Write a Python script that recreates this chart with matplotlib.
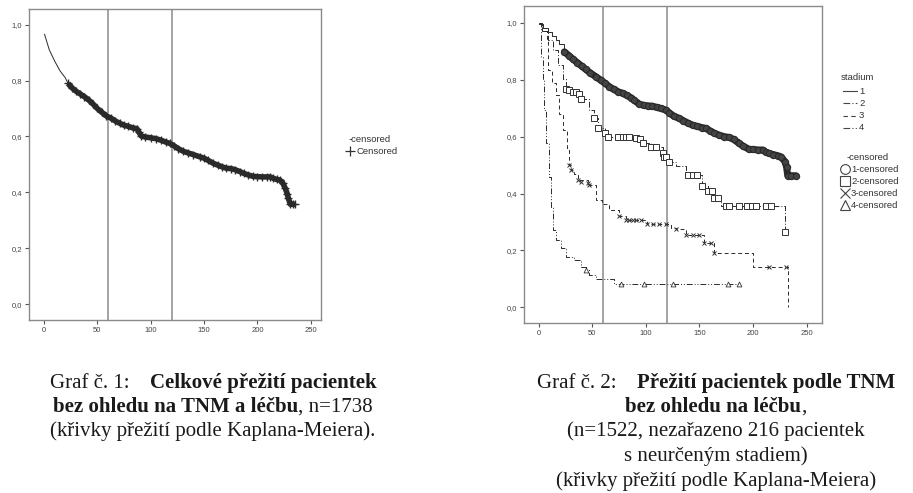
# plot.py - Kaplan-Meier curves (overall + by TNM stage)
import matplotlib
matplotlib.use('Agg')
import matplotlib.pyplot as plt
from matplotlib.lines import Line2D

# ------------------------------
# 1. Data
# ------------------------------
# Graf 1 - overall survival
km_t = [0.6, 5, 10, 15, 20, 22.5, 26, 30, 34, 38, 42, 46, 50, 54, 58.5, 63, 67, 71, 75, 79,
        83.5, 87, 89, 91.4, 95, 100, 105, 110, 114, 118, 122, 126, 130.5, 135, 140, 146, 150,
        154, 158.6, 163, 167, 171, 175, 179, 183.7, 187, 191.5, 196, 200, 204, 208.7, 212,
        215, 218, 221, 223.7, 226, 228, 229, 231, 233, 235.3]
km_s = [0.965, 0.91, 0.87, 0.835, 0.81, 0.79, 0.775, 0.762, 0.752, 0.742, 0.73, 0.716, 0.70,
        0.687, 0.673, 0.665, 0.655, 0.647, 0.640, 0.636, 0.630, 0.628, 0.615, 0.601, 0.598,
        0.595, 0.592, 0.586, 0.580, 0.575, 0.566, 0.556, 0.547, 0.541, 0.535, 0.527, 0.522,
        0.514, 0.504, 0.497, 0.491, 0.486, 0.485, 0.481, 0.474, 0.468, 0.462, 0.457, 0.456,
        0.455, 0.455, 0.455, 0.450, 0.446, 0.444, 0.434, 0.415, 0.395, 0.378, 0.357, 0.357, 0.357]
km_cens_from = 22.5

# Graf 2 - by stage
st1_t = [0, 4, 8.4, 12, 16, 19.3, 24, 28, 32, 36, 40, 44, 48, 53.5, 58, 62, 66, 70, 74, 78.4,
         82, 86, 89, 93.9, 98, 102, 106, 110, 114, 118.8, 122, 126, 131, 135, 139, 143.7, 148,
         152, 156, 160, 164, 168.5, 173, 177.9, 182, 187, 191, 196.5, 200, 205, 209, 212, 215,
         219, 223, 226, 229.8, 231.3, 232.3, 235, 240]
st1_s = [0.994, 0.98, 0.968, 0.955, 0.94, 0.927, 0.898, 0.885, 0.872, 0.86, 0.848, 0.836, 0.824,
         0.81, 0.798, 0.787, 0.775, 0.766, 0.758, 0.752, 0.745, 0.737, 0.728, 0.714, 0.710,
         0.708, 0.707, 0.703, 0.699, 0.693, 0.683, 0.672, 0.664, 0.656, 0.648, 0.64, 0.636,
         0.632, 0.629, 0.62, 0.612, 0.605, 0.60, 0.597, 0.59, 0.576, 0.566, 0.555, 0.555, 0.553,
         0.553, 0.545, 0.541, 0.537, 0.533, 0.529, 0.512, 0.492, 0.4625, 0.4625, 0.4625]
st1_cens_from = 24

st2_t = [0, 3, 8.4, 13, 17.7, 22.4, 25, 31.7, 38, 39.5, 47, 52, 55.7, 62.2, 64.4, 90.8, 94.5,
         97.6, 104.8, 115.7, 117.2, 119, 122, 128, 137.4, 152.4, 157.6, 163.2, 170, 229.8]
st2_s = [1.0, 0.97, 0.939, 0.904, 0.851, 0.804, 0.766, 0.758, 0.748, 0.731, 0.693, 0.667, 0.631,
         0.611, 0.6, 0.594, 0.59, 0.578, 0.564, 0.541, 0.529, 0.521, 0.512, 0.498, 0.465, 0.427,
         0.41, 0.386, 0.357, 0.266]
st2_ct = [25, 28, 31.7, 34.8, 38, 39.5, 52, 55.7, 62.2, 64.4, 73.7, 78.4, 81.5, 84.6, 90.8, 94.5,
          97.6, 104.8, 109.5, 115.7, 117.2, 118.8, 121.9, 139, 143.7, 147.4, 152.4, 157.6, 161.7,
          163.2, 167.6, 174.8, 177.3, 186.6, 194.3, 199, 202.7, 212, 216.7, 229.8]
st2_cs = [0.766, 0.763, 0.758, 0.758, 0.748, 0.731, 0.667, 0.631, 0.611, 0.6, 0.6, 0.6, 0.6, 0.6,
          0.594, 0.59, 0.578, 0.564, 0.564, 0.541, 0.529, 0.527, 0.512, 0.465, 0.465, 0.465,
          0.427, 0.41, 0.41, 0.386, 0.386, 0.357, 0.357, 0.357, 0.357, 0.357, 0.357, 0.357,
          0.357, 0.266]

st3_t = [0, 3, 7.7, 8.7, 12, 16.1, 19, 22.7, 26, 28, 30.2, 33, 36.4, 45.7, 47.3, 53.5, 59, 66,
         74.6, 81.5, 100.7, 123.4, 128, 137.4, 154.5, 163.9, 199.7, 232.3]
st3_s = [1.0, 0.97, 0.94, 0.835, 0.79, 0.747, 0.68, 0.623, 0.56, 0.502, 0.482, 0.47, 0.447, 0.436,
         0.43, 0.377, 0.363, 0.342, 0.322, 0.307, 0.293, 0.278, 0.274, 0.255, 0.227, 0.19, 0.141, 0.0]
st3_ct = [28, 30.2, 36.4, 39.5, 45.7, 47.3, 74.6, 81.5, 84.6, 87.7, 90.8, 95.5, 100.7, 106.3,
          112.5, 118.8, 128.1, 137.4, 143.7, 149.9, 154.5, 160.8, 163.9, 215.2, 230.7]
st3_cs = [0.502, 0.482, 0.447, 0.441, 0.436, 0.43, 0.322, 0.307, 0.307, 0.307, 0.307, 0.307,
          0.293, 0.293, 0.293, 0.293, 0.274, 0.255, 0.255, 0.255, 0.227, 0.227, 0.19, 0.141, 0.141]

st4_t = [0, 2.2, 3.7, 5.3, 6.8, 9.3, 11.5, 13, 16.2, 20.8, 25.5, 33.3, 39.5, 44.2, 47.3, 53.5,
         70.6, 186.6]
st4_s = [1.0, 0.88, 0.8, 0.693, 0.576, 0.459, 0.354, 0.272, 0.237, 0.207, 0.178, 0.166, 0.143,
         0.131, 0.114, 0.098, 0.082, 0.082]
st4_ct = [44.2, 76.8, 98.6, 125.6, 177, 186.6]
st4_cs = [0.131, 0.082, 0.082, 0.082, 0.082, 0.082]

x_ticks = [0, 50, 100, 150, 200, 250]
y_ticks = [0.0, 0.2, 0.4, 0.6, 0.8, 1.0]
y_labels = ['0,0', '0,2', '0,4', '0,6', '0,8', '1,0']
ref_months = [60, 120]

stage_names = ['1', '2', '3', '4']
stage_ls = ['-', (0, (6, 2, 1, 2)), (0, (4, 3)), (0, (6, 2, 1, 2, 1, 2))]
cens_markers = ['o', 's', 'x', '^']

# ------------------------------
# 2. Figure
# ------------------------------
W, H = 913, 493
fig = plt.figure(figsize=(W / 100, H / 100), dpi=100)
plt.rcParams['font.family'] = ['Liberation Sans', 'DejaVu Sans']
dark = '#2a2a2a'
leg_fs = 6.8


def px_axes(l, t, r, b):
    return fig.add_axes([l / W, 1 - b / H, (r - l) / W, (b - t) / H])


def style_axes(ax, xlim, ylim):
    ax.set_xlim(*xlim)
    ax.set_ylim(*ylim)
    ax.set_xticks(x_ticks)
    ax.set_yticks(y_ticks)
    ax.set_yticklabels(y_labels)
    for s in ax.spines.values():
        s.set_color('#8a8a8a')
        s.set_linewidth(1.0)
    ax.tick_params(length=3, width=0.8, color='#555555', labelsize=5.5,
                   labelcolor='#444444', pad=2)
    for m in ref_months:
        ax.axvline(m, color='#8a8a8a', lw=1.1, zorder=1)


# --- Graf 1 ---
ax1 = px_axes(29, 9, 321, 320)
style_axes(ax1, (-14, 259.6), (-0.057, 1.056))
ax1.plot(km_t, km_s, color=dark, lw=0.7, zorder=3)
ct = [t for t in km_t if t >= km_cens_from]
cs = [s for t, s in zip(km_t, km_s) if t >= km_cens_from]
ax1.plot(ct, cs, color=dark, lw=4, solid_capstyle='butt', zorder=3)
ax1.plot(ct, cs, ls='none', marker='+', ms=6, mew=1.0, color=dark, zorder=4)

fig.text(349 / W, 1 - 140 / H, '-censored', fontsize=leg_fs, color='#333333', va='center')
fig.add_artist(Line2D([350 / W], [1 - 151 / H], transform=fig.transFigure, marker='+',
                      ms=7, mew=0.9, color='#333333'))
fig.text(356 / W, 1 - 151 / H, 'Censored', fontsize=leg_fs, color='#333333', va='center')

# --- Graf 2 ---
ax2 = px_axes(523.7, 6, 822, 323)
style_axes(ax2, (-14, 264.3), (-0.055, 1.059))
curves = [(st1_t, st1_s), (st2_t, st2_s), (st3_t, st3_s), (st4_t, st4_s)]
for (t, s), ls in zip(curves, stage_ls):
    ax2.plot(t, s, color=dark, lw=0.7, ls=ls, drawstyle='steps-post', zorder=3)

c1t = [t for t in st1_t if t >= st1_cens_from]
c1s = [s for t, s in zip(st1_t, st1_s) if t >= st1_cens_from]
ax2.plot(c1t, c1s, color=dark, lw=5, solid_capstyle='round', zorder=3)
ax2.plot(c1t, c1s, ls='none', marker='o', ms=4.5, mfc='#444444', mec=dark, mew=0.8, zorder=4)
ax2.plot(st2_ct, st2_cs, ls='none', marker='s', ms=4.5, mfc='white', mec='#333333', mew=0.7, zorder=4)
ax2.plot(st3_ct, st3_cs, ls='none', marker='x', ms=3.5, color='#333333', mew=0.7, zorder=4)
ax2.plot(st4_ct, st4_cs, ls='none', marker='^', ms=3.5, mfc='white', mec='#333333', mew=0.6, zorder=4)

# legend (right chart)
fig.text(841 / W, 1 - 78 / H, 'stadium', fontsize=leg_fs, color='#333333', va='center')
for i, (name, ls) in enumerate(zip(stage_names, stage_ls)):
    y = 1 - (91 + 12.3 * i) / H
    fig.add_artist(Line2D([843 / W, 857 / W], [y, y], transform=fig.transFigure,
                          color='#444444', lw=0.8, ls=ls))
    fig.text(859 / W, y, name, fontsize=leg_fs, color='#333333', va='center')
fig.text(847 / W, 1 - 157 / H, '-censored', fontsize=leg_fs, color='#333333', va='center')
for i, (name, mk) in enumerate(zip(stage_names, cens_markers)):
    y = 1 - (169 + 12 * i) / H
    fig.add_artist(Line2D([845 / W], [y], transform=fig.transFigure, marker=mk, ms=7,
                          mfc='none', mec='#444444', mew=0.8, color='#444444'))
    fig.text(851 / W, y, name + '-censored', fontsize=leg_fs, color='#333333', va='center')

# ------------------------------
# 3. Captions (serif, mixed bold)
# ------------------------------
renderer = fig.canvas.get_renderer()
cap_kw = dict(fontsize=15, family='Liberation Serif', color='#1a1a1a', va='baseline')


def text_w(s, weight):
    t = fig.text(0, 0, s, fontweight=weight, **cap_kw)
    w = t.get_window_extent(renderer).width
    t.remove()
    return w


def caption_line(xc, yc, parts):
    # parts = [(text, weight, gap_after_px)]; yc is the visual middle of the line
    widths = [text_w(s, w) for s, w, g in parts]
    total = sum(widths) + sum(g for _, _, g in parts[:-1])
    x = xc - total / 2
    for (s, w, g), wd in zip(parts, widths):
        fig.text(x / W, 1 - (yc + 6) / H, s, fontweight=w, ha='left', **cap_kw)
        x += wd + g


caption_line(213, 382, [('Graf č. 1:', 'normal', 20), ('Celkové přežití pacientek', 'bold', 0)])
caption_line(213, 406, [('bez ohledu na TNM a léčbu', 'bold', 0), (', n=1738', 'normal', 0)])
caption_line(213, 430, [('(křivky přežití podle Kaplana-Meiera).', 'normal', 0)])

caption_line(716, 382, [('Graf č. 2:', 'normal', 20), ('Přežití pacientek podle TNM', 'bold', 0)])
caption_line(716, 406, [('bez ohledu na léčbu', 'bold', 0), (',', 'normal', 0)])
caption_line(716, 430, [('(n=1522, nezařazeno 216 pacientek', 'normal', 0)])
caption_line(716, 455, [('s neurčeným stadiem)', 'normal', 0)])
caption_line(716, 480, [('(křivky přežití podle Kaplana-Meiera)', 'normal', 0)])

fig.savefig('out.png', dpi=100)
plt.close()
